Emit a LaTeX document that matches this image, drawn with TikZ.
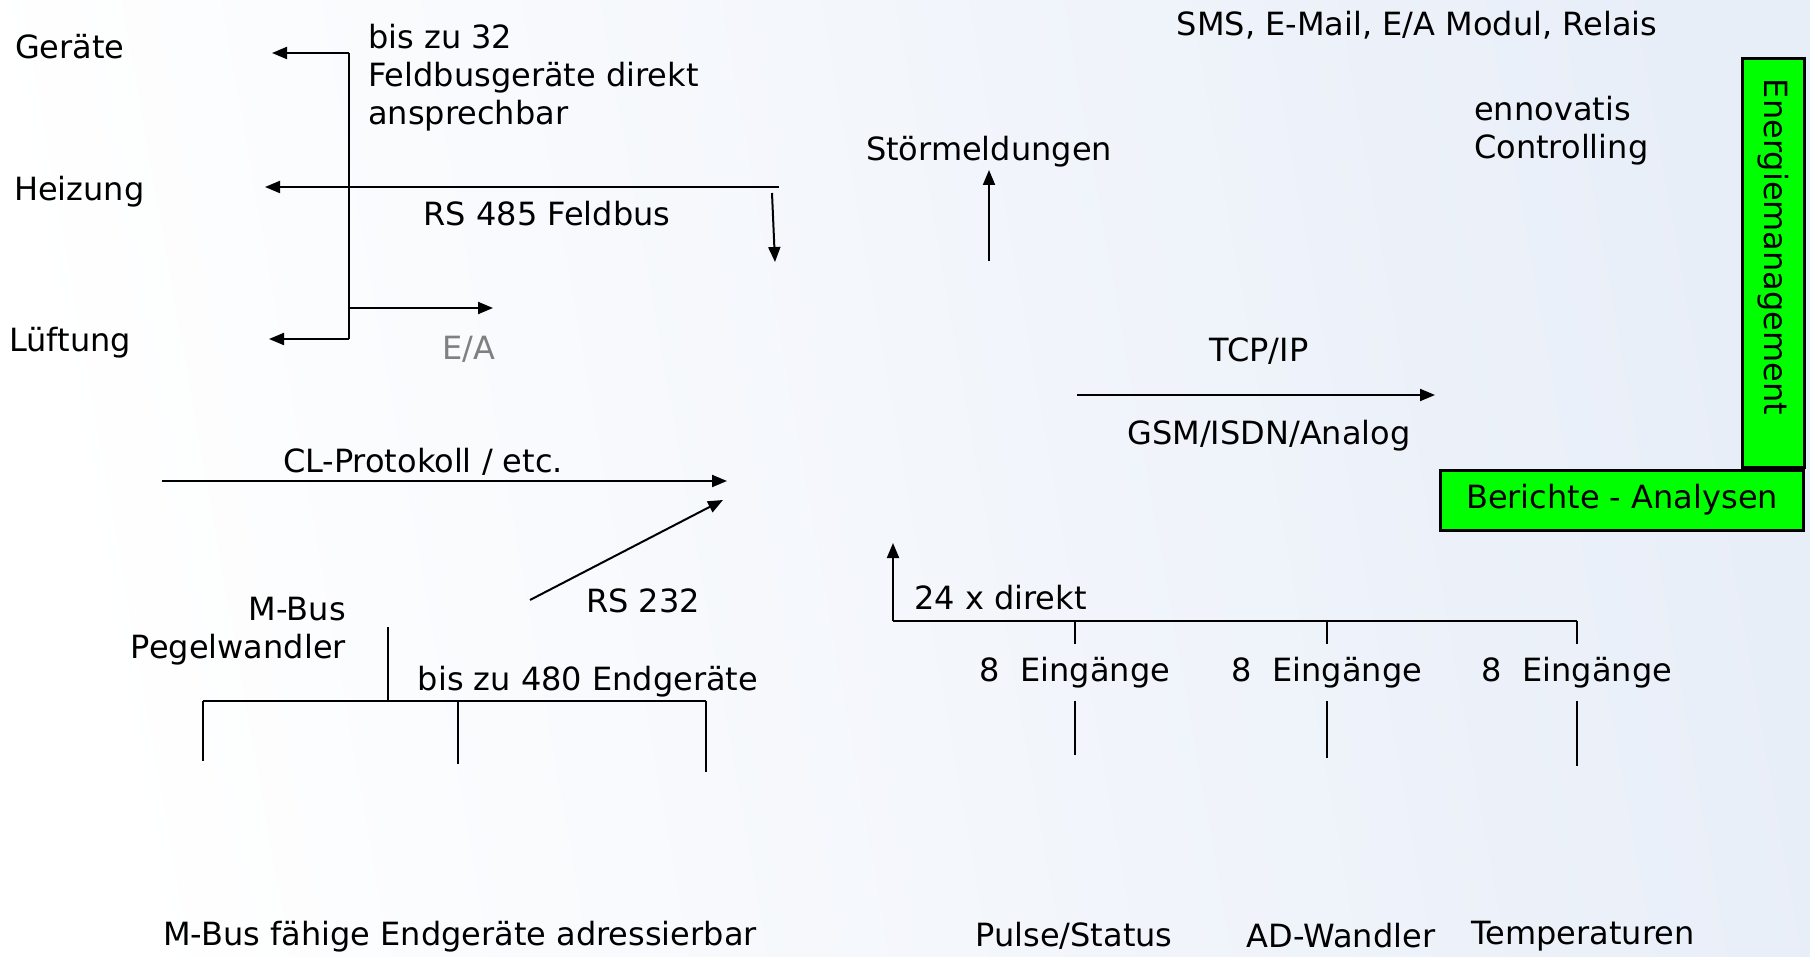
\documentclass[tikz,border=0pt]{standalone}
\usepackage{fontspec}
\setmainfont{DejaVu Sans}
\usetikzlibrary{arrows.meta}
\definecolor{bgblue}{RGB}{232,238,248}
\tikzset{
    bus_arrow/.style={-{Triangle[length=15pt,width=12pt]}, line width=2pt, draw=black},
    bus_line/.style={line width=1.6pt, draw=black},
    label_text/.style={inner sep=0pt, yshift=-4pt, font=\fontsize{32}{38}\selectfont, text=black},
    green_box/.style={draw=black, line width=3pt, fill=green, font=\fontsize{32}{38}\selectfont}
}

\begin{document}
\begin{tikzpicture}[x=1pt, y=-1pt]
\shade[left color=white, right color=bgblue, shading angle=100] (0,0) rectangle (1810,957);
\useasboundingbox (0,0) rectangle (1810,957);

% Feldbus (left top)
\node[label_text, anchor=west] (geraete)  at (15,43)  {Geräte};
\node[label_text, anchor=west] (heizung)  at (14,188) {Heizung};
\node[label_text, anchor=west] (lueftung) at (9,339)  {Lüftung};
\node[label_text, anchor=north west, align=left] (fb_count) at (368,20)
    {bis zu 32\\Feldbusgeräte direkt\\ansprechbar};
\node[label_text] (rs485) at (547,210) {RS 485 Feldbus};
\node[label_text, text=gray] (io) at (469,345) {E/A};

\coordinate (fb_top)   at (349,53);
\coordinate (fb_mid)   at (349,187);
\coordinate (fb_io)    at (349,308);
\coordinate (fb_bot)   at (349,339);
\coordinate (fb_right) at (779,187);
\coordinate (geraete_in)  at (272,53);
\coordinate (heizung_in)  at (265,187);
\coordinate (lueftung_in) at (269,339);
\coordinate (io_out)      at (493,308);
\coordinate (fb_drop_top) at (772,193);
\coordinate (fb_drop_bot) at (775,262);

\draw[bus_line] (fb_top) -- (fb_bot);
\draw[bus_arrow] (fb_top) -- (geraete_in);
\draw[bus_arrow] (fb_right) -- (heizung_in);
\draw[bus_arrow] (fb_bot) -- (lueftung_in);
\draw[bus_arrow] (fb_io) -- (io_out);
\draw[bus_arrow] (fb_drop_top) -- (fb_drop_bot);

% Stoermeldungen
\node[label_text] (stoer) at (989,148) {Störmeldungen};
\coordinate (stoer_from) at (989,261);
\coordinate (stoer_to)   at (989,170);
\draw[bus_arrow] (stoer_from) -- (stoer_to);

\node[label_text] (sms) at (1417,21) {SMS, E-Mail, E/A Modul, Relais};
\node[label_text, anchor=west, align=left] (ennovatis) at (1474,127) {ennovatis\\Controlling};

% Energiemanagement boxes
\node[green_box, rotate=-90, minimum width=408pt, minimum height=62pt,
      inner xsep=20pt, text width=368pt, align=left] (energie) at (1773,263) {Energiemanagement};
\node[green_box, minimum width=363pt, minimum height=60pt] (berichte) at (1622,500) {Berichte - Analysen};

% TCP/IP
\node[label_text] (tcp) at (1259,347) {TCP/IP};
\node[label_text] (gsm) at (1269,432) {GSM/ISDN/Analog};
\coordinate (tcp_from) at (1077,395);
\coordinate (tcp_to)   at (1435,395);
\draw[bus_arrow] (tcp_from) -- (tcp_to);

% CL-Protokoll / RS 232
\node[label_text] (cl) at (423,458) {CL-Protokoll / etc.};
\node[label_text] (rs232) at (643,597) {RS 232};
\coordinate (cl_from)    at (162,481);
\coordinate (cl_to)      at (727,481);
\coordinate (rs232_from) at (530,600);
\coordinate (rs232_to)   at (723,500);
\draw[bus_arrow] (cl_from) -- (cl_to);
\draw[bus_arrow] (rs232_from) -- (rs232_to);

% M-Bus
\node[label_text, anchor=east, align=right] (pegel) at (346,627) {M-Bus\\Pegelwandler};
\node[label_text] (mbus_count) at (588,678) {bis zu 480 Endgeräte};
\node[label_text] (mbus_dev) at (460,933) {M-Bus fähige Endgeräte adressierbar};
\coordinate (pegel_out) at (388,627);
\coordinate (mbus_join) at (388,701);
\coordinate (mbus_left) at (203,701);
\coordinate (mbus_right) at (706,701);
\draw[bus_line] (pegel_out) -- (mbus_join);
\draw[bus_line] (mbus_left) -- (mbus_right);
\foreach \x/\y in {203/761, 458/764, 706/772} {
    \draw[bus_line] (\x,701) -- (\x,\y);
}

% direkte Eingaenge
\node[label_text, anchor=west] (direkt) at (914,594) {24 x direkt};
\coordinate (in_join)  at (893,621);
\coordinate (in_right) at (1577,621);
\coordinate (in_up)    at (893,543);
\draw[bus_line] (in_join) -- (in_right);
\draw[bus_arrow] (in_join) -- (in_up);

\foreach \i/\x/\lx/\lo/\txt in {1/1075/1074/755/{Pulse/Status}, 2/1327/1341/758/AD-Wandler, 3/1577/1583/766/Temperaturen} {
    \node[label_text] (eing\i) at (\x,669) {8\ \ Eingänge};
    \node[label_text] (src\i) at (\lx,932) {\txt};
    \draw[bus_line] (\x,621) -- (\x,644);
    \draw[bus_line] (\x,701) -- (\x,\lo);
}

\end{tikzpicture}
\end{document}
